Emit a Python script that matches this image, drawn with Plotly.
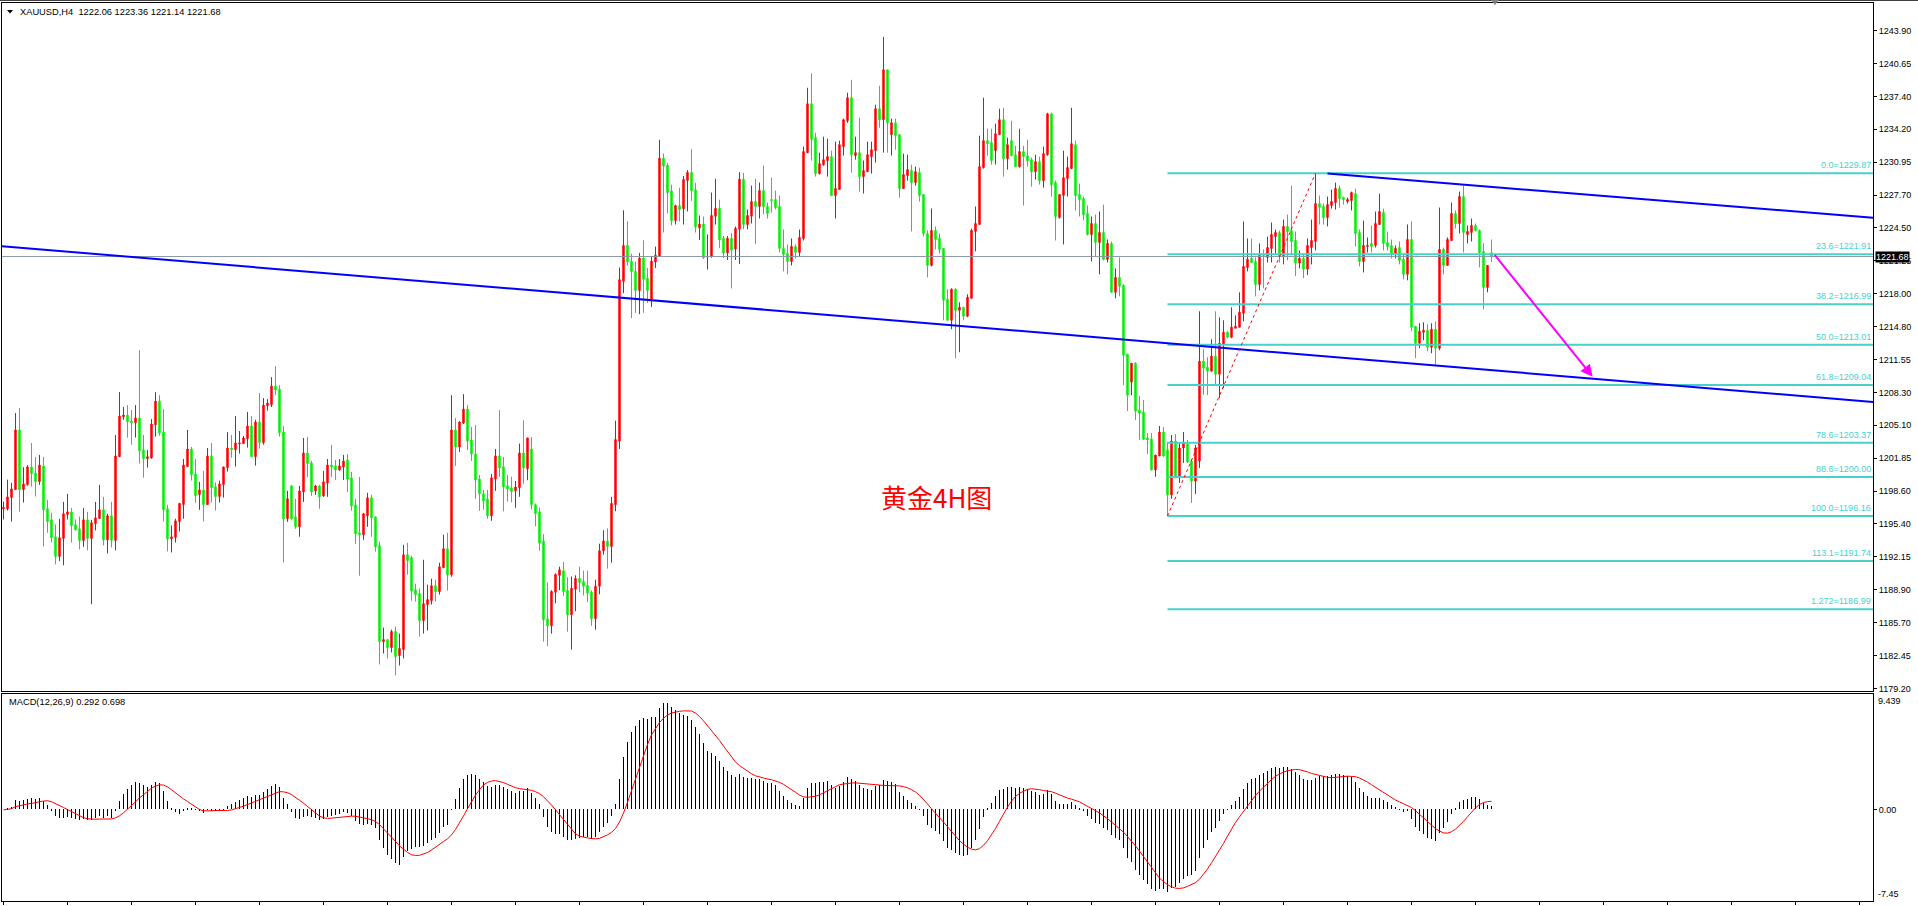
import plotly.graph_objects as go
import pandas as pd

# ---------------- data (XAUUSD H4) ----------------
opens = [
1196.87,1196.87,1197.98,1198.76,1204.62,1198.76,1199.25,1200.99,1200.40,1199.55,
1201.09,1196.87,1195.79,1194.12,1192.19,1193.96,1196.31,1196.57,1195.30,1194.90,
1193.76,1195.79,1193.96,1195.43,1195.92,1196.77,1193.82,1196.18,1193.76,1202.00,
1205.93,1206.09,1205.50,1205.34,1205.80,1202.66,1201.81,1201.87,1205.14,1207.46,
1204.42,1196.87,1193.92,1194.05,1195.62,1197.29,1201.02,1202.75,1200.30,1198.27,
1198.73,1197.29,1202.07,1199.03,1198.08,1199.25,1200.92,1202.85,1202.69,1203.25,
1203.28,1203.77,1205.01,1202.00,1205.40,1203.38,1207.01,1207.11,1208.94,1208.64,
1204.42,1195.89,1199.12,1196.08,1195.10,1198.53,1202.36,1201.38,1198.63,1199.12,
1198.14,1199.42,1201.18,1201.09,1200.69,1200.99,1201.67,1199.91,1197.26,1194.51,
1194.32,1196.18,1197.95,1196.08,1193.24,1183.81,1184.01,1183.23,1184.80,1182.44,
1183.03,1192.35,1192.06,1188.92,1188.53,1185.88,1187.45,1187.84,1189.31,1188.72,
1191.08,1192.94,1190.39,1204.62,1202.95,1205.31,1206.68,1203.64,1202.26,1199.81,
1198.34,1197.85,1196.18,1199.81,1202.07,1201.00,1199.14,1198.91,1198.64,1198.95,
1202.36,1200.81,1202.75,1197.28,1196.58,1193.71,1186.06,1185.36,1188.66,1190.33,
1190.79,1188.86,1186.45,1188.97,1190.02,1189.71,1189.32,1188.66,1186.06,1189.25,
1192.74,1193.71,1193.17,1197.28,1203.53,1219.24,1222.77,1221.22,1220.21,1218.35,
1221.53,1219.55,1217.50,1221.14,1221.69,1231.35,1230.65,1228.13,1225.22,1226.69,
1226.38,1229.17,1229.95,1228.24,1224.48,1224.87,1221.65,1221.65,1225.64,1226.42,
1223.47,1222.04,1223.47,1222.42,1224.36,1229.29,1224.83,1225.65,1227.09,1226.60,
1228.17,1226.60,1227.29,1227.29,1226.60,1222.48,1221.99,1221.20,1222.68,1222.09,
1223.46,1231.90,1236.71,1233.37,1229.84,1230.72,1231.12,1231.51,1227.68,1228.27,
1232.49,1235.04,1237.30,1231.61,1231.90,1229.54,1230.03,1231.51,1232.10,1236.22,
1235.14,1240.04,1233.67,1234.84,1233.67,1228.37,1229.64,1230.13,1228.96,1229.94,
1227.78,1223.95,1220.81,1224.25,1223.46,1222.48,1217.47,1215.41,1218.46,1216.39,
1216.69,1215.81,1217.57,1224.15,1224.84,1230.43,1233.08,1232.88,1232.10,1233.67,
1235.14,1231.31,1233.08,1231.70,1230.52,1232.00,1231.60,1231.21,1230.03,1231.01,
1229.15,1231.70,1235.72,1228.95,1225.52,1227.68,1229.35,1230.33,1232.68,1227.78,
1227.38,1225.91,1223.85,1224.93,1223.07,1224.05,1221.40,1222.97,1218.16,1219.63,
1218.85,1212.08,1209.33,1211.19,1206.58,1206.38,1203.83,1203.73,1200.69,1202.07,
1204.42,1202.66,1198.24,1203.54,1199.91,1202.85,1203.24,1201.58,1199.61,1201.58,
1211.39,1210.80,1210.41,1211.88,1210.11,1213.06,1214.24,1213.74,1214.63,1214.73,
1216.10,1220.61,1221.50,1221.20,1218.94,1221.79,1221.59,1222.48,1223.65,1224.05,
1221.69,1224.64,1224.24,1223.26,1221.04,1221.50,1220.45,1222.57,1223.16,1226.89,
1226.60,1225.52,1226.70,1226.99,1228.37,1227.48,1227.09,1227.19,1227.87,1224.05,
1221.20,1222.67,1222.97,1222.77,1224.83,1226.01,1223.06,1222.77,1221.89,1222.57,
1221.40,1219.93,1223.36,1214.82,1213.15,1214.23,1214.43,1212.76,1214.53,1212.66,
1222.38,1220.81,1223.26,1225.91,1224.93,1227.58,1223.85,1224.05,1224.73,1224.24,
1222.18,1218.65,1222.06]

highs = [
1197.59,1199.74,1199.42,1206.29,1206.78,1200.96,1201.18,1203.34,1201.97,1202.17,
1201.97,1197.75,1196.47,1195.33,1195.89,1197.55,1198.34,1196.96,1195.82,1196.11,
1196.96,1196.57,1195.79,1197.55,1199.22,1198.04,1196.38,1197.55,1204.13,1208.35,
1206.88,1207.07,1206.58,1207.07,1212.47,1204.13,1202.66,1205.70,1208.35,1208.05,
1206.68,1197.26,1195.23,1195.89,1197.46,1201.77,1204.62,1202.95,1201.77,1199.52,
1200.60,1202.85,1203.34,1199.45,1199.65,1200.99,1204.42,1204.13,1205.99,1204.52,
1204.03,1206.39,1205.99,1205.63,1208.25,1207.76,1207.66,1209.82,1210.90,1209.04,
1205.01,1198.63,1199.22,1197.85,1199.12,1203.83,1203.93,1201.58,1199.22,1199.22,
1200.60,1201.77,1203.15,1201.67,1201.77,1202.17,1202.26,1200.50,1197.85,1200.01,
1196.47,1198.44,1198.24,1196.08,1193.63,1185.19,1184.01,1184.99,1185.29,1184.60,
1193.33,1193.53,1192.25,1189.51,1189.02,1191.86,1189.41,1190.00,1189.90,1191.57,
1194.32,1194.51,1208.05,1205.80,1205.50,1208.15,1207.07,1204.91,1205.11,1200.20,
1198.73,1198.73,1200.30,1202.76,1206.58,1201.97,1200.19,1200.03,1199.61,1203.29,
1205.58,1203.84,1203.92,1197.40,1196.97,1194.37,1189.63,1188.86,1190.52,1191.18,
1191.65,1190.14,1190.21,1190.33,1191.18,1190.79,1190.79,1188.86,1189.90,1193.44,
1194.76,1194.95,1198.05,1205.54,1220.60,1226.23,1225.14,1221.96,1221.18,1222.04,
1223.28,1220.56,1221.72,1222.66,1233.17,1231.81,1230.88,1228.75,1226.77,1228.44,
1229.60,1230.18,1232.24,1228.94,1225.72,1225.61,1223.86,1227.97,1229.33,1227.27,
1223.70,1223.70,1223.98,1224.63,1229.99,1229.91,1226.30,1228.66,1229.35,1228.96,
1230.62,1226.99,1229.45,1228.17,1227.68,1224.34,1222.87,1223.46,1222.87,1224.34,
1232.49,1238.28,1239.69,1233.86,1231.90,1233.47,1233.27,1232.10,1232.98,1233.08,
1235.24,1237.79,1239.06,1233.47,1235.33,1231.12,1232.98,1232.98,1236.61,1238.47,
1243.28,1240.04,1235.24,1235.24,1233.67,1231.80,1231.70,1230.72,1230.53,1230.43,
1227.78,1224.25,1226.41,1224.64,1223.95,1222.48,1218.46,1218.55,1218.55,1217.18,
1216.69,1217.97,1224.44,1226.60,1233.57,1237.30,1234.26,1234.26,1234.75,1236.22,
1236.31,1233.37,1235.04,1232.58,1234.25,1232.58,1233.17,1231.41,1231.70,1231.51,
1232.49,1235.82,1235.82,1229.15,1227.78,1232.09,1231.51,1236.31,1233.08,1228.86,
1227.58,1226.70,1225.62,1225.81,1226.11,1226.79,1223.36,1223.16,1220.51,1221.59,
1218.95,1212.08,1211.19,1211.29,1207.95,1207.56,1204.32,1204.32,1202.16,1205.01,
1204.91,1203.44,1204.13,1204.23,1203.34,1204.42,1203.64,1201.77,1203.15,1216.30,
1212.57,1211.78,1213.55,1216.30,1215.71,1215.41,1214.33,1216.69,1215.90,1218.16,
1225.13,1223.46,1223.46,1221.59,1222.97,1222.38,1223.65,1225.03,1224.34,1224.24,
1225.32,1225.81,1228.66,1224.14,1222.28,1221.99,1223.46,1225.32,1229.87,1227.68,
1226.89,1227.58,1228.27,1228.95,1228.66,1227.58,1227.48,1228.07,1228.36,1224.34,
1225.22,1223.56,1224.73,1226.11,1227.87,1226.40,1224.14,1223.36,1222.77,1223.16,
1221.99,1224.83,1225.13,1214.82,1215.12,1215.21,1215.02,1215.12,1215.31,1226.50,
1222.57,1223.56,1226.99,1226.21,1228.07,1228.66,1224.73,1225.42,1224.93,1224.34,
1222.97,1220.81,1223.36]

lows = [
1195.82,1196.70,1195.62,1198.76,1196.60,1197.49,1199.16,1199.06,1198.08,1199.22,
1193.17,1194.51,1193.56,1191.40,1191.73,1191.31,1195.82,1193.56,1194.74,1192.88,
1193.14,1192.78,1187.48,1194.74,1195.89,1193.27,1192.48,1193.07,1192.78,1202.00,
1205.63,1203.87,1203.18,1203.87,1201.32,1199.94,1200.92,1201.81,1203.96,1204.06,
1195.62,1192.68,1192.58,1193.56,1194.64,1195.89,1201.02,1199.65,1197.46,1196.77,
1195.62,1197.29,1197.49,1196.70,1197.49,1197.98,1200.53,1201.90,1201.02,1202.30,
1203.25,1202.89,1202.00,1201.12,1202.79,1203.18,1206.52,1206.88,1208.05,1203.97,
1191.60,1195.59,1195.79,1194.90,1194.12,1197.55,1200.01,1198.14,1198.24,1196.87,
1198.04,1198.04,1200.01,1199.71,1200.60,1199.71,1198.53,1196.67,1193.43,1190.29,
1193.83,1195.10,1194.12,1192.65,1181.56,1182.64,1182.15,1182.74,1180.48,1181.46,
1182.15,1190.39,1187.84,1187.74,1184.30,1184.60,1184.89,1187.45,1187.74,1188.43,
1191.08,1188.82,1190.19,1201.09,1202.46,1205.21,1202.66,1201.58,1197.85,1196.67,
1196.77,1195.89,1195.69,1198.63,1200.01,1196.62,1197.59,1197.51,1196.97,1198.05,
1199.33,1199.68,1196.81,1195.14,1192.74,1183.81,1183.35,1184.59,1187.58,1188.86,
1188.28,1184.78,1183.03,1186.80,1188.66,1188.35,1187.70,1185.36,1184.98,1188.47,
1192.35,1190.99,1191.57,1196.62,1202.75,1218.08,1220.79,1215.63,1216.14,1216.02,
1216.14,1217.11,1216.72,1220.56,1221.69,1224.05,1225.92,1224.75,1224.83,1225.14,
1224.83,1226.11,1227.16,1224.05,1223.32,1221.45,1220.41,1221.57,1224.83,1222.50,
1221.53,1221.34,1218.54,1221.34,1220.95,1224.36,1224.36,1224.93,1222.90,1225.42,
1225.82,1225.42,1226.01,1226.31,1222.09,1220.22,1219.93,1220.81,1221.50,1221.69,
1223.26,1231.90,1231.12,1229.54,1229.74,1230.62,1229.54,1227.68,1225.42,1228.27,
1231.61,1234.84,1229.94,1231.21,1228.07,1227.88,1230.03,1229.84,1230.92,1234.35,
1231.90,1231.90,1231.61,1232.19,1227.48,1228.37,1229.15,1224.15,1228.66,1227.09,
1223.66,1219.63,1220.71,1222.38,1221.99,1215.41,1215.41,1214.53,1211.68,1212.27,
1215.41,1215.71,1217.57,1222.19,1224.84,1230.33,1231.61,1230.72,1230.72,1233.67,
1229.54,1230.23,1231.60,1230.52,1230.43,1226.70,1230.52,1228.56,1229.25,1228.76,
1228.46,1231.60,1227.58,1223.26,1225.42,1222.87,1227.58,1230.33,1226.21,1225.62,
1225.23,1223.75,1221.20,1221.69,1219.93,1221.30,1221.10,1218.16,1217.57,1217.77,
1209.03,1206.48,1208.05,1205.60,1203.64,1203.64,1202.26,1200.69,1200.01,1202.07,
1202.00,1196.16,1197.85,1199.91,1199.42,1201.38,1201.38,1197.45,1198.34,1200.89,
1208.09,1208.05,1210.41,1208.94,1207.76,1208.74,1213.65,1213.65,1214.63,1214.73,
1215.31,1220.22,1221.10,1217.77,1218.36,1218.55,1221.10,1221.10,1221.99,1221.10,
1220.91,1221.30,1221.89,1219.76,1220.51,1219.56,1219.86,1220.91,1222.28,1224.83,
1224.83,1224.64,1226.40,1226.30,1226.50,1226.79,1226.89,1226.21,1222.67,1220.71,
1220.12,1222.08,1222.08,1222.57,1224.83,1222.28,1222.28,1221.50,1221.50,1220.91,
1219.43,1219.34,1214.33,1211.68,1212.66,1213.45,1212.37,1212.17,1210.99,1212.47,
1219.92,1220.81,1223.26,1224.44,1223.95,1222.08,1222.97,1223.16,1224.14,1220.61,
1216.49,1218.16,1221.14]

closes = [
1197.00,1198.04,1198.83,1204.62,1198.76,1199.32,1200.99,1200.33,1199.55,1201.18,
1196.77,1195.62,1194.02,1192.19,1194.02,1196.38,1196.57,1195.23,1194.81,1193.76,
1195.79,1193.96,1195.49,1195.98,1196.77,1193.82,1196.18,1193.76,1202.07,1205.99,
1206.09,1205.44,1205.34,1205.80,1202.59,1201.81,1202.00,1205.21,1207.46,1204.32,
1196.77,1193.92,1194.12,1195.69,1197.39,1201.18,1202.75,1200.24,1198.17,1198.73,
1197.29,1202.07,1198.96,1198.08,1199.32,1200.99,1202.85,1202.69,1203.34,1203.34,
1203.83,1205.01,1202.00,1205.40,1203.38,1207.07,1207.27,1208.94,1208.55,1204.36,
1195.89,1197.85,1195.89,1195.10,1198.63,1202.36,1201.32,1198.53,1199.12,1198.04,
1199.52,1201.18,1200.99,1200.69,1201.09,1201.58,1199.81,1197.16,1194.41,1194.32,
1196.38,1197.95,1195.98,1193.14,1183.81,1184.01,1183.23,1184.80,1182.34,1183.13,
1192.35,1191.76,1188.82,1188.43,1185.88,1187.54,1187.94,1189.31,1188.72,1191.17,
1192.94,1190.39,1204.62,1202.95,1205.40,1206.68,1203.54,1202.26,1199.71,1198.34,
1197.65,1196.18,1199.91,1202.07,1200.89,1199.02,1198.83,1198.56,1199.02,1202.36,
1200.89,1203.84,1197.28,1196.42,1193.51,1185.95,1185.36,1188.74,1190.41,1190.87,
1188.74,1186.45,1189.05,1190.02,1189.63,1189.25,1188.59,1186.06,1189.25,1192.74,
1193.71,1193.17,1197.40,1203.68,1219.40,1222.77,1221.14,1220.21,1218.35,1221.53,
1219.44,1218.35,1221.22,1221.80,1231.35,1230.57,1227.97,1225.22,1226.69,1226.30,
1229.25,1229.95,1228.17,1224.60,1224.87,1221.57,1221.69,1225.72,1226.42,1223.32,
1222.04,1223.47,1222.31,1224.44,1229.29,1224.83,1225.72,1227.09,1226.60,1228.17,
1226.60,1225.91,1227.19,1226.50,1222.48,1221.89,1221.20,1222.68,1222.09,1223.56,
1232.00,1236.71,1233.18,1229.84,1230.82,1231.21,1231.51,1227.68,1228.37,1232.68,
1235.14,1237.30,1231.70,1231.90,1229.54,1230.13,1231.70,1232.19,1236.22,1235.14,
1240.04,1234.84,1234.84,1233.57,1228.37,1229.74,1230.23,1228.96,1230.03,1227.68,
1223.95,1220.81,1224.25,1223.36,1222.38,1217.38,1215.41,1218.46,1216.39,1216.69,
1215.81,1217.67,1224.25,1224.93,1230.53,1233.08,1232.78,1231.12,1233.76,1235.14,
1231.31,1232.68,1231.60,1230.52,1232.00,1231.51,1231.11,1230.03,1231.01,1229.15,
1231.80,1235.72,1228.76,1225.62,1227.78,1229.44,1230.43,1232.78,1227.68,1227.29,
1225.81,1223.85,1224.93,1223.07,1224.05,1221.40,1222.97,1218.16,1219.63,1218.75,
1211.98,1208.05,1211.19,1206.48,1206.29,1203.73,1203.64,1200.69,1202.16,1204.42,
1202.07,1198.24,1203.54,1199.91,1202.85,1203.34,1201.48,1199.61,1202.85,1211.39,
1210.70,1210.41,1211.88,1210.11,1213.16,1214.24,1213.74,1214.73,1214.82,1216.20,
1220.71,1221.40,1221.10,1218.94,1221.79,1221.69,1222.57,1223.85,1224.05,1221.69,
1224.64,1224.14,1223.16,1221.04,1221.50,1220.45,1222.77,1223.26,1226.89,1226.53,
1225.52,1226.79,1227.09,1228.37,1227.38,1227.29,1227.29,1227.97,1223.95,1221.20,
1222.77,1222.77,1222.67,1224.93,1226.11,1222.97,1222.67,1221.89,1222.48,1221.30,
1219.93,1223.36,1214.72,1213.15,1214.33,1214.43,1212.76,1214.53,1212.66,1222.38,
1220.81,1223.36,1225.91,1224.93,1227.58,1224.05,1224.14,1224.73,1224.24,1222.08,
1218.65,1220.81,1221.68]

price_ticks = [1243.90, 1240.65, 1237.40, 1234.20, 1230.95, 1227.70, 1224.50, 1221.25,
               1218.00, 1214.80, 1211.55, 1208.30, 1205.10, 1201.85, 1198.60, 1195.40,
               1192.15, 1188.90, 1185.70, 1182.45, 1179.20]

fib_names = ["0.0", "23.6", "38.2", "50.0", "61.8", "78.6", "88.6", "100.0", "113.1", "1.272"]
fib_prices = [1229.87, 1221.91, 1216.99, 1213.01, 1209.04, 1203.37, 1200.00, 1196.16, 1191.74, 1186.99]
fib_start_bar = 291

# trend lines: (bar, price) anchors
trend_lower = [(-0.375, 1222.70), (467.375, 1207.38)]
trend_upper = [(331, 1229.84), (467.375, 1225.50)]
zigzag = [(291, 1196.16), (328, 1229.87)]
arrow_from = (372.5, 1221.99)
arrow_to = (397.3, 1209.85)

last_price = 1221.68
title_text = "XAUUSD,H4\u00a0 1222.06 1223.36 1221.14 1221.68"
macd_params = (12, 26, 9)
macd_values = (0.292, 0.698)
macd_range = (-7.45, 9.439)
note_text = "黄金4H图"
note_pos = (233.2, 1198.1)

# ---------------- derived indicator (MT4 MACD: EMA fast - EMA slow, SMA signal) ----------------
cs = pd.Series(closes)
macd_main = cs.ewm(span=macd_params[0], adjust=False).mean() - cs.ewm(span=macd_params[1], adjust=False).mean()
macd_signal = macd_main.rolling(macd_params[2], min_periods=1).mean()

# ---------------- layout geometry ----------------
W, H = 1918, 906
n = len(closes)
bars = list(range(n))
PXB = 4.0          # pixels per bar
X0 = 3.5           # pixel centre of first bar
L_PX, R_PX = 2, 1873
x_rng = [(L_PX - X0) / PXB, (R_PX - X0) / PXB]
MAIN_TOP, MAIN_BOT = 3, 693
MACD_TOP, MACD_BOT = 696, 903
y_rng = [1178.905, 1246.618]

FONT = "Liberation Sans, Arial, sans-serif"
FIB_COL = "#48D1CC"
BID_COL = "#8A97A3"

fig = go.Figure()
fig.add_trace(go.Candlestick(
    x=bars, open=opens, high=highs, low=lows, close=closes,
    increasing=dict(line=dict(color="#FF0000", width=1), fillcolor="#FF0000"),
    decreasing=dict(line=dict(color="#00F000", width=1), fillcolor="#00F000"),
    whiskerwidth=0, xaxis="x", yaxis="y", showlegend=False, hoverinfo="skip"))

fig.add_trace(go.Bar(x=bars, y=macd_main, width=0.25, marker=dict(color="#000000", line=dict(width=0)),
                     xaxis="x2", yaxis="y2", showlegend=False, hoverinfo="skip"))
fig.add_trace(go.Scatter(x=bars, y=macd_signal, mode="lines", line=dict(color="#FF0000", width=1),
                         xaxis="x2", yaxis="y2", showlegend=False, hoverinfo="skip"))

shapes = []
# bid line
shapes.append(dict(type="line", xref="x", yref="y", x0=x_rng[0], x1=x_rng[1], y0=last_price, y1=last_price,
                   line=dict(color=BID_COL, width=1), layer="above"))
# fibo levels
for p in fib_prices:
    shapes.append(dict(type="line", xref="x", yref="y", x0=fib_start_bar, x1=x_rng[1], y0=p, y1=p,
                       line=dict(color=FIB_COL, width=2), layer="above"))
# trend lines
for tl in (trend_lower, trend_upper):
    shapes.append(dict(type="line", xref="x", yref="y", x0=tl[0][0], y0=tl[0][1], x1=tl[1][0], y1=tl[1][1],
                       line=dict(color="#0000FF", width=2), layer="above"))
shapes.append(dict(type="line", xref="x", yref="y", x0=zigzag[0][0], y0=zigzag[0][1], x1=zigzag[1][0], y1=zigzag[1][1],
                   line=dict(color="#FF0000", width=1, dash="dot"), layer="above"))
# window top edge
shapes.append(dict(type="line", xref="paper", yref="paper", x0=0, x1=1, y0=1, y1=1,
                   line=dict(color="#404040", width=2)))
# chart shift marker
tx = 1495 / W
shapes.append(dict(type="path", xref="paper", yref="paper",
                   path=f"M {tx-4/W} {1-0/H} L {tx+4/W} {1-0/H} L {tx} {1-5/H} Z",
                   fillcolor="#808080", line=dict(width=0)))
# small triangle before title
shapes.append(dict(type="path", xref="paper", yref="paper",
                   path=f"M {7/W} {1-10/H} L {13/W} {1-10/H} L {10/W} {1-13.5/H} Z",
                   fillcolor="#000000", line=dict(width=0)))

ann = []
ann.append(dict(text=title_text, xref="paper", yref="paper", x=18/W, y=1-12/H, xanchor="left", yanchor="middle",
                showarrow=False, font=dict(family=FONT, size=9.3, color="#000000")))
ann.append(dict(text="MACD(%d,%d,%d) %.3f %.3f" % (macd_params + macd_values),
                xref="paper", yref="paper", x=7/W, y=1-704/H, xanchor="left", yanchor="middle",
                showarrow=False, font=dict(family=FONT, size=9.3, color="#000000")))
for nm, p in zip(fib_names, fib_prices):
    ann.append(dict(text=f"{nm}={p:.2f}", xref="paper", yref="y", x=R_PX/W, y=p, xanchor="right", yanchor="bottom",
                    yshift=1, showarrow=False, font=dict(family=FONT, size=9, color=FIB_COL)))
ann.append(dict(text=f"{last_price:.2f}", xref="paper", yref="y", x=1875/W, y=last_price, xanchor="left",
                yanchor="middle", showarrow=False, bgcolor="#000000", borderpad=0,
                font=dict(family=FONT, size=9, color="#FFFFFF")))
ann.append(dict(text=note_text, xref="x", yref="y", x=note_pos[0], y=note_pos[1], xanchor="center", yanchor="middle",
                showarrow=False, font=dict(family="Noto Sans CJK SC", size=26, color="#FF0000")))
ann.append(dict(text="", xref="x", yref="y", x=arrow_to[0], y=arrow_to[1], ax=arrow_from[0], ay=arrow_from[1],
                axref="x", ayref="y", showarrow=True, arrowhead=2, arrowsize=1.2, arrowwidth=2,
                arrowcolor="#FF00FF"))
ann.append(dict(text="%.3f" % macd_range[1], xref="paper", yref="paper", x=1876/W, y=1-703/H, xanchor="left",
                yanchor="middle", showarrow=False, font=dict(family=FONT, size=9, color="#000000")))
ann.append(dict(text="%.2f" % macd_range[0], xref="paper", yref="paper", x=1876/W, y=1-896/H, xanchor="left",
                yanchor="middle", showarrow=False, font=dict(family=FONT, size=9, color="#000000")))

axis_common = dict(showgrid=False, zeroline=False, showline=True, linecolor="#000000", linewidth=1, mirror=True,
                   fixedrange=True)
fig.update_layout(
    width=W, height=H, margin=dict(l=0, r=0, t=0, b=0), paper_bgcolor="#FFFFFF", plot_bgcolor="#FFFFFF",
    showlegend=False, boxgap=0.5, bargap=0,
    xaxis=dict(domain=[L_PX/W, R_PX/W], range=x_rng, anchor="y", showticklabels=False, ticks="",
               rangeslider=dict(visible=False), **axis_common),
    yaxis=dict(domain=[1-MAIN_BOT/H, 1-MAIN_TOP/H], range=y_rng, anchor="x", side="right",
               tickvals=price_ticks, ticktext=["%.2f" % v for v in price_ticks], ticks="outside", ticklen=3,
               tickcolor="#000000", tickfont=dict(family=FONT, size=9, color="#000000"), **axis_common),
    xaxis2=dict(domain=[L_PX/W, R_PX/W], range=x_rng, anchor="y2", showticklabels=False, ticks="outside",
                ticklen=3, tickcolor="#000000", tickvals=list(range(0, n + 100, 16)), **axis_common),
    yaxis2=dict(domain=[1-MACD_BOT/H, 1-MACD_TOP/H], range=list(macd_range), anchor="x2", side="right",
                tickvals=[0], ticktext=["0.00"], ticks="outside", ticklen=3, tickcolor="#000000",
                tickfont=dict(family=FONT, size=9, color="#000000"), **axis_common),
    shapes=shapes, annotations=ann,
)

fig.write_html("out.html")
